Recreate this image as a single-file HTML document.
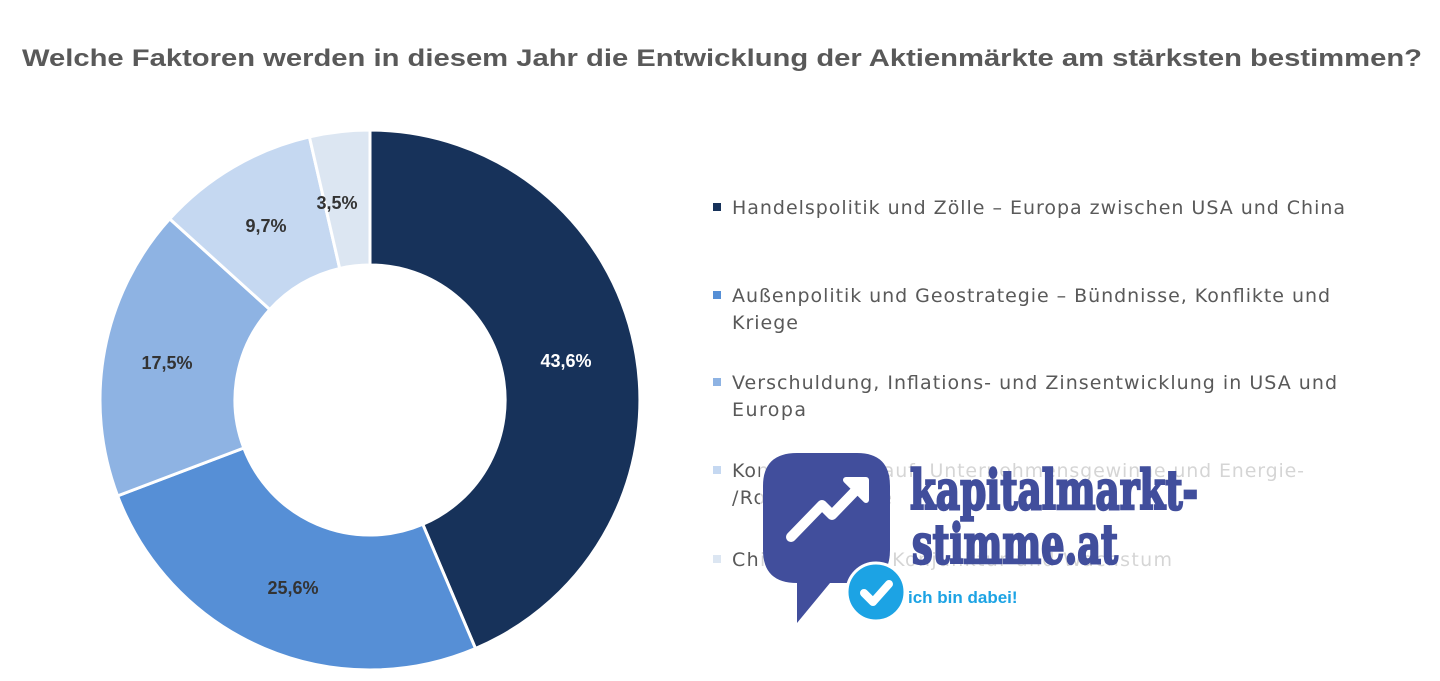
<!DOCTYPE html>
<html><head><meta charset="utf-8"><style>
body{margin:0;background:#fff;width:1440px;height:681px;overflow:hidden}
svg{display:block}
</style></head><body>
<svg width="1440" height="681" viewBox="0 0 1440 681" xmlns="http://www.w3.org/2000/svg" font-family="Liberation Sans, DejaVu Sans, sans-serif">
<text x="22" y="66" font-size="24" font-weight="bold" fill="#595959" textLength="1400" lengthAdjust="spacingAndGlyphs">Welche Faktoren werden in diesem Jahr die Entwicklung der Aktienmärkte am stärksten bestimmen?</text>
<g transform="translate(370,400)" stroke="#fff" stroke-width="3">
<path d="M0,-270 A270,270 0 0 1 105.5,248.5 L52.8,124.3 A135,135 0 0 0 0,-135Z" fill="#17325a"/>
<path d="M105.5,248.5 A270,270 0 0 1 -252.4,95.9 L-126.2,48 A135,135 0 0 0 52.8,124.3Z" fill="#568fd6"/>
<path d="M-252.4,95.9 A270,270 0 0 1 -200.3,-181.1 L-100.2,-90.5 A135,135 0 0 0 -126.2,48Z" fill="#8eb3e3"/>
<path d="M-200.3,-181.1 A270,270 0 0 1 -60.6,-263.1 L-30.3,-131.6 A135,135 0 0 0 -100.2,-90.5Z" fill="#c5d8f1"/>
<path d="M-60.6,-263.1 A270,270 0 0 1 0,-270 L0,-135 A135,135 0 0 0 -30.3,-131.6Z" fill="#dce6f2"/>
</g>
<g font-size="18" font-weight="bold" text-anchor="middle">
<text x="566" y="367" fill="#fff">43,6%</text>
<text x="293" y="594" fill="#333">25,6%</text>
<text x="167" y="369" fill="#333">17,5%</text>
<text x="266" y="232" fill="#333">9,7%</text>
<text x="337" y="209" fill="#333">3,5%</text>
</g>
<g font-size="19" fill="#595959" font-family="DejaVu Sans, Liberation Sans, sans-serif" lengthAdjust="spacingAndGlyphs">
<rect x="713" y="203" width="8" height="8" fill="#17325a"/>
<text x="732" y="214" textLength="613">Handelspolitik und Zölle – Europa zwischen USA und China</text>
<rect x="713" y="291" width="8" height="8" fill="#568fd6"/>
<text x="732" y="302" textLength="598">Außenpolitik und Geostrategie – Bündnisse, Konflikte und</text>
<text x="732" y="329" textLength="66">Kriege</text>
<rect x="713" y="378" width="8" height="8" fill="#8eb3e3"/>
<text x="732" y="389" textLength="605">Verschuldung, Inflations- und Zinsentwicklung in USA und</text>
<text x="732" y="416" textLength="74">Europa</text>
<rect x="713" y="466" width="8" height="8" fill="#c5d8f1"/>
<text x="732" y="477" textLength="572">Konjunkturverlauf, Unternehmensgewinne und Energie-</text>
<text x="732" y="504" textLength="160">/Rohstoffpreise</text>
<rect x="713" y="555" width="8" height="8" fill="#dce6f2"/>
<text x="732" y="566" textLength="440">Chinas Politik, Konjunktur und Wachstum</text>
</g>
<rect x="760" y="450" width="690" height="190" fill="#fff" opacity="0.75"/>
<path d="M797,453 H857 Q890,453 890,486 V550 Q890,583 857,583 H830 L797,623 V583 Q763,583 763,550 V486 Q763,453 797,453Z" fill="#414e9c"/>
<path d="M791,537 L822,505 L832,515 L861,485" stroke="#fff" stroke-width="10" fill="none" stroke-linecap="round" stroke-linejoin="round"/>
<path d="M846,480 L866,480 L866,500Z" fill="#fff" stroke="#fff" stroke-width="6" stroke-linejoin="round"/>
<circle cx="876" cy="592" r="29" fill="#1ca3e4" stroke="#fff" stroke-width="3"/>
<path d="M864,593 L873,602 L889,584" stroke="#fff" stroke-width="8" fill="none" stroke-linecap="round" stroke-linejoin="round"/>
<g font-family="DejaVu Serif, Liberation Serif, serif" font-weight="bold" fill="#414e9c" stroke="#414e9c" stroke-width="2.5" font-size="54">
<text x="910" y="509" textLength="288" lengthAdjust="spacingAndGlyphs">kapitalmarkt-</text>
<text x="912" y="563" textLength="206" lengthAdjust="spacingAndGlyphs">stimme.at</text>
</g>
<text x="908" y="603" font-size="17" font-weight="bold" fill="#1ca3e4">ich bin dabei!</text>
</svg>
</body></html>
